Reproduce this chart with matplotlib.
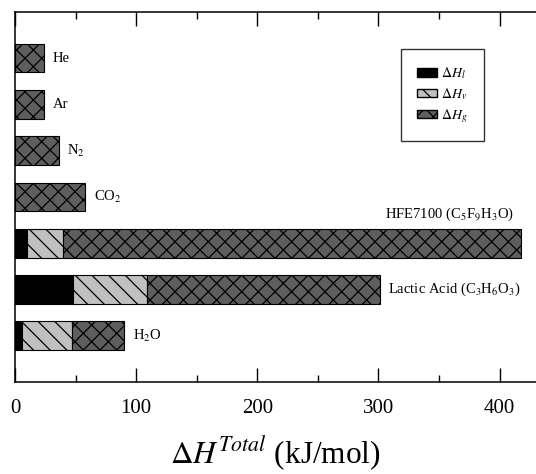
import matplotlib.pyplot as plt
from matplotlib.patches import Patch
from matplotlib.ticker import MultipleLocator

plt.rcParams["font.family"] = "Liberation Serif"
plt.rcParams["mathtext.fontset"] = "stix"
plt.rcParams["hatch.linewidth"] = 0.9

# bottom to top
species = ["H$_2$O", "Lactic Acid (C$_3$H$_6$O$_3$)", "HFE7100 (C$_5$F$_9$H$_3$O)",
           "CO$_2$", "N$_2$", "Ar", "He"]
dH_l = [6, 48, 10, 0, 0, 0, 0]
dH_v = [41, 61, 30, 0, 0, 0, 0]
dH_g = [43, 192, 378, 58, 36, 24, 24]

DARK = "#5e5e5e"
LIGHT = "#c0c0c0"

fig = plt.figure(figsize=(5.36, 4.74), dpi=100)
ax = fig.add_axes([0.028, 0.194, 0.972, 0.781])

ypos = list(range(1, len(species) + 1))
h = 0.62
left_v = [l for l in dH_l]
left_g = [l + v for l, v in zip(dH_l, dH_v)]

ax.barh(ypos, dH_l, height=h, color="black", edgecolor="black", linewidth=0.8)
ax.barh(ypos, dH_v, left=left_v, height=h, color=LIGHT, edgecolor="black",
        linewidth=0.8, hatch="\\\\")
ax.barh(ypos, dH_g, left=left_g, height=h, color=DARK, edgecolor="black",
        linewidth=0.8, hatch="xx")

totals = [l + v + g for l, v, g in zip(dH_l, dH_v, dH_g)]
for y, name, tot in zip(ypos, species, totals):
    if name.startswith("HFE"):
        ax.text(305, y + 0.62, name, ha="left", va="center", fontsize=10.5)
    else:
        ax.text(tot + 7, y, name, ha="left", va="center", fontsize=10.5)

ax.set_xlim(0, 430)
ax.set_ylim(0, 8)
ax.set_yticks([])
ax.xaxis.set_major_locator(MultipleLocator(100))
ax.xaxis.set_minor_locator(MultipleLocator(50))
ax.tick_params(axis="x", which="both", direction="in", top=True, bottom=True,
               labelsize=15, pad=12)
ax.tick_params(axis="x", which="major", length=10, width=1)
ax.tick_params(axis="x", which="minor", length=5, width=1)
ax.spines["right"].set_visible(False)
for s in ["left", "top", "bottom"]:
    ax.spines[s].set_linewidth(1.1)

ax.set_xlabel(r"$\Delta H^{Total}$ (kJ/mol)", fontsize=22.5, labelpad=12)

handles = [
    Patch(facecolor="black", edgecolor="black", label=r"$\Delta H_l$"),
    Patch(facecolor=LIGHT, edgecolor="black", hatch="\\\\", label=r"$\Delta H_v$"),
    Patch(facecolor=DARK, edgecolor="black", hatch="xx", label=r"$\Delta H_g$"),
]
leg = ax.legend(handles=handles, loc="upper left", bbox_to_anchor=(0.74, 0.90),
                fontsize=10, frameon=True, fancybox=False, shadow=False,
                handlelength=1.4, handleheight=0.55, handletextpad=0.3,
                labelspacing=0.35, borderpad=1.2, borderaxespad=0)
leg.get_frame().set_edgecolor("black")
leg.get_frame().set_linewidth(1.0)

fig.savefig("out.png", dpi=100)
